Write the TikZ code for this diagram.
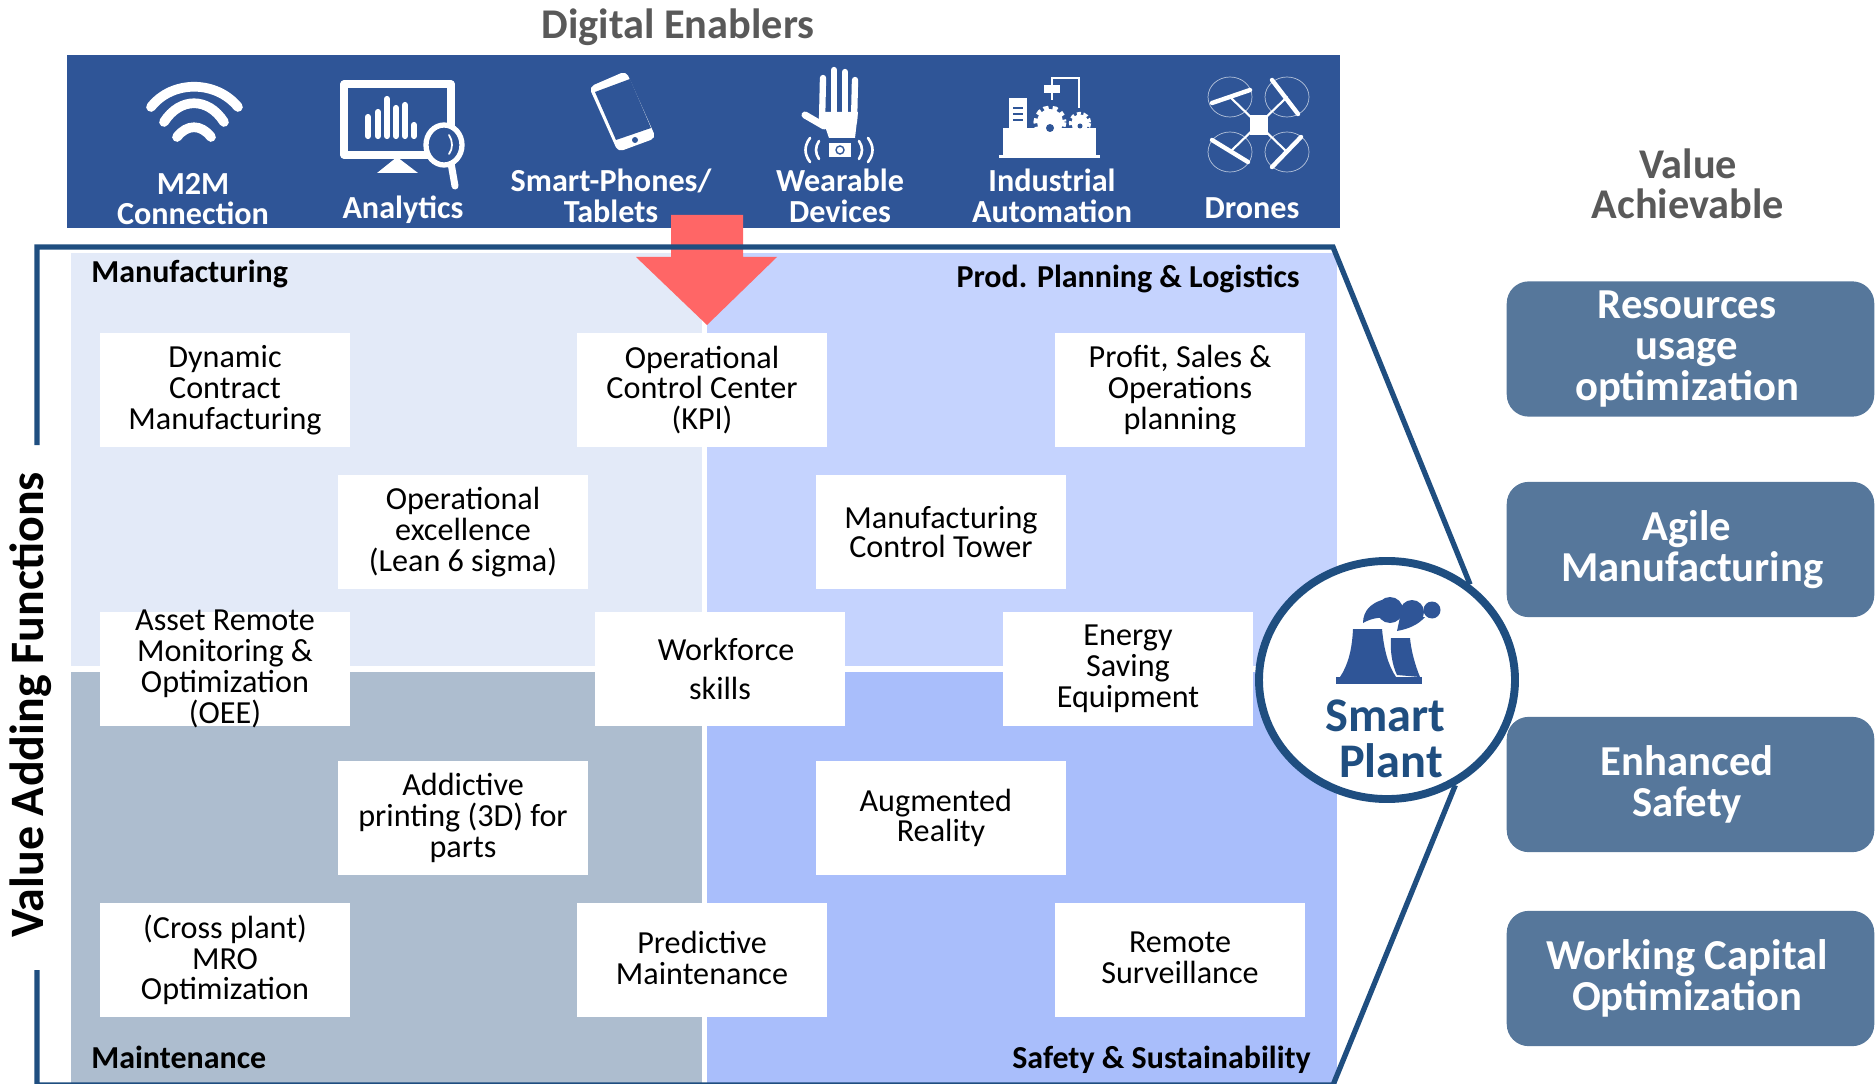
\documentclass[tikz,border=0pt]{standalone}
\usepackage{fontspec}
\setmainfont{Carlito}
\usetikzlibrary{shapes.geometric}
\definecolor{bandblue}{HTML}{2F5597}
\definecolor{framenavy}{HTML}{1F4E80}
\definecolor{zonemfg}{HTML}{E3EAF8}
\definecolor{zoneplan}{HTML}{C5D3FE}
\definecolor{zonemaint}{HTML}{ADBDCF}
\definecolor{zonesafe}{HTML}{A9BEFB}
\definecolor{valueblue}{HTML}{56779B}
\definecolor{arrowred}{HTML}{FF6666}
\definecolor{titlegray}{HTML}{595959}
\tikzset{
    funcbox/.style={fill=white, minimum width=142.8pt, minimum height=64.6pt, inner sep=0pt, align=center,
        font=\fontsize{18.3}{17.5}\selectfont},
    functext/.style={inner sep=0pt, align=center, font=\fontsize{18.3}{17.5}\selectfont},
    bandlabel/.style={text=white, align=center, inner sep=0pt, font=\bfseries\fontsize{18.3}{17.5}\selectfont},
    zonelabel/.style={inner sep=0pt, font=\bfseries\fontsize{18.2}{17.5}\selectfont},
    headlabel/.style={text=titlegray, align=center, inner sep=0pt, font=\bfseries\fontsize{24.1}{23}\selectfont},
    valuebox/.style={fill=valueblue, text=white, rounded corners=12.5pt, minimum width=209.2pt, minimum height=77pt,
        inner sep=0pt, align=center, font=\bfseries\fontsize{24.3}{23.4}\selectfont},
    frameline/.style={draw=framenavy, line width=3pt},
    iconline/.style={draw=white, line cap=round, line join=round},
}
\newcommand{\valshift}{\hspace*{-4pt}}
\begin{document}
\begin{tikzpicture}[x=0.02cm, y=-0.02cm]
    \useasboundingbox (0,0) rectangle (1875,1084);

    \node [headlabel] (enablers) at (678,27.5) {Digital Enablers};
    \fill [bandblue] (67,55) rectangle (1340,228);

    \fill [zonemfg] (71,253) rectangle (702,666);
    \fill [zoneplan] (707,253) rectangle (1337,666);
    \fill [zonemaint] (71,672) rectangle (702,1084);
    \fill [zonesafe] (707,672) rectangle (1337,1084);

    \node [bandlabel] (m2m) at (193,199) {M2M\\Connection};
    \node [bandlabel] (analytics) at (403,210) {Analytics};
    \node [bandlabel] (phones) at (611,196) {Smart-Phones/\\Tablets};
    \node [bandlabel] (wearable) at (840,196) {Wearable\\Devices};
    \node [bandlabel] (automation) at (1052,196) {Industrial\\Automation};
    \node [bandlabel] (drones) at (1252,208) {Drones};

    \draw [iconline, line width=5.5pt] (151,107) .. controls (172,80) and (216,80) .. (238,107);
    \draw [iconline, line width=5.5pt] (164,122) .. controls (180,97) and (208,97) .. (224,122);
    \draw [iconline, line width=5.5pt] (177,137) .. controls (187,124) and (201,124) .. (211,137);

    \draw [iconline, line width=4pt] (344,84) rectangle (451,155);
    \fill [white] (397,157) -- (418,173) -- (377,173) -- cycle;
    \draw [iconline, line width=3.5pt] (368,117) -- (368,136);
    \draw [iconline, line width=3.5pt] (378,112) -- (378,136);
    \draw [iconline, line width=3.5pt] (387,99) -- (387,136);
    \draw [iconline, line width=3.5pt] (396,108) -- (396,136);
    \draw [iconline, line width=3.5pt] (405,105) -- (405,136);
    \draw [iconline, line width=3.5pt] (414,125) -- (414,136);
    \draw [iconline, line width=4pt] (451,163) -- (455,186);
    \draw [iconline, fill=bandblue, line width=3pt] (444,145) ellipse (18 and 20);
    \draw [iconline, line width=1pt] (449,135) .. controls (453,141) and (453,149) .. (449,154);

    \fill [white, rounded corners=3pt] (589,87) -- (626,71) -- (656,138) -- (618,152) -- cycle;
    \fill [bandblue] (595,92) -- (630,79) -- (651,128) -- (616,140) -- cycle;
    \fill [bandblue] (635,140) circle (3);

    \draw [iconline, line width=3.6pt] (822,122) -- (823,78);
    \draw [iconline, line width=3.6pt] (834,122) -- (834,70);
    \draw [iconline, line width=3.6pt] (845,122) -- (845,72);
    \draw [iconline, line width=3.6pt] (854,122) -- (855,80);
    \draw [iconline, line width=4pt] (805,115) -- (824,126);
    \fill [white] (820,112) -- (858,112) -- (855,138) -- (829,138) -- cycle;
    \fill [white] (829,143) rectangle (851,157);
    \draw [bandblue, line width=0.8pt] (840,150) circle (4);
    \draw [iconline, line width=1.5pt] (819,141) .. controls (815,147) and (815,153) .. (819,159);
    \draw [iconline, line width=1.5pt] (810,138) .. controls (804,146) and (804,154) .. (810,162);
    \draw [iconline, line width=1.5pt] (859,141) .. controls (863,147) and (863,153) .. (859,159);
    \draw [iconline, line width=1.5pt] (868,138) .. controls (874,146) and (874,154) .. (868,162);

    \fill [white] (999,155) rectangle (1100,158);
    \fill [white] (1003,128) rectangle (1096,156);
    \fill [white] (1009,98) rectangle (1027,129);
    \draw [bandblue, line width=1pt] (1013,108) -- (1023,108);
    \draw [bandblue, line width=1pt] (1013,114) -- (1023,114);
    \draw [bandblue, line width=1pt] (1013,120) -- (1023,120);
    \draw [white, line width=4pt, dash pattern=on 2.5pt off 2pt] (1050,122) circle (13);
    \fill [white] (1050,122) circle (13);
    \draw [white, line width=3pt, dash pattern=on 2pt off 1.5pt] (1080,123) circle (8.5);
    \fill [white] (1080,123) circle (8.5);
    \fill [bandblue] (1050,128) circle (4);
    \fill [bandblue] (1080,126) circle (2.5);
    \draw [white, line width=1.5pt] (1079,108) -- (1079,78) -- (1052,78) -- (1052,100);
    \fill [white] (1044,85) rectangle (1060,93);

    \draw [white!65!bandblue, line width=0.4pt] (1230,97) ellipse (22 and 20);
    \draw [white!65!bandblue, line width=0.4pt] (1287,97) ellipse (22 and 20);
    \draw [white!65!bandblue, line width=0.4pt] (1230,152) ellipse (22 and 20);
    \draw [white!65!bandblue, line width=0.4pt] (1287,152) ellipse (22 and 20);
    \draw [iconline, line width=1.2pt] (1230,97) -- (1287,152);
    \draw [iconline, line width=1.2pt] (1287,97) -- (1230,152);
    \fill [white] (1250,115) rectangle (1268,135);
    \draw [iconline, line width=2.5pt] (1212,103) -- (1250,90);
    \draw [iconline, line width=2.5pt] (1272,80) -- (1298,114);
    \draw [iconline, line width=2.5pt] (1212,140) -- (1248,162);
    \draw [iconline, line width=2.5pt] (1272,167) -- (1301,137);

    \fill [arrowred] (671,215) -- (743,215) -- (743,257) -- (777,257) -- (707,325) -- (636,257) -- (671,257) -- cycle;

    \node [funcbox] (contract) at (225,390) {Dynamic\\Contract\\Manufacturing};
    \node [funcbox] (control) at (702,390) {Operational\\Control Center\\(KPI)};
    \node [funcbox] (sales) at (1180,390) {Profit, Sales \&\\Operations\\planning};
    \node [funcbox] (lean) at (463,532) {Operational\\excellence\\(Lean 6 sigma)};
    \node [funcbox] (tower) at (941,532) {Manufacturing\\[-0.6pt]Control Tower};
    \node [funcbox] (assetbox) at (225,669) {};
    \node [functext] (asset) at (225,669) {Asset Remote\\Monitoring \&\\Optimization\\(OEE)};
    \node [funcbox] (workforce) at (720,669) {\hspace*{7pt}Workforce\\[5pt]skills};
    \node [funcbox] (energy) at (1128,669) {Energy\\Saving\\Equipment};
    \node [funcbox] (printing) at (463,818) {Addictive\\printing (3D) for\\parts};
    \node [funcbox] (reality) at (941,818) {\hspace*{-6pt}Augmented\\Reality};
    \node [funcbox] (mro) at (225,960) {(Cross plant)\\MRO\\Optimization};
    \node [funcbox] (predictivebox) at (702,960) {};
    \node [functext] (predictive) at (702,958) {Predictive\\Maintenance};
    \node [funcbox] (surveillancebox) at (1180,960) {};
    \node [functext] (surveillance) at (1180,958) {Remote\\Surveillance};

    \node [zonelabel, anchor=west] (manufacturing) at (91,273.5) {Manufacturing};
    \node [zonelabel, anchor=east] (planning) at (1300,278.5) {Prod. Planning \& Logistics};
    \node [zonelabel, anchor=west] (maintenance) at (91,1057) {Maintenance};
    \node [zonelabel, anchor=east] (safety) at (1311,1060) {Safety \& Sustainability};

    \node [rotate=90, inner sep=0pt, font=\bfseries\fontsize{27.3}{27.3}\selectfont] (functions) at (30.5,705) {Value Adding Functions};

    \node [draw=framenavy, line width=4.5pt, fill=white, shape=ellipse, inner sep=0pt, minimum width=145.7pt, minimum height=135.5pt] (plant) at (1387,680) {};
    \coordinate (topleft) at (37,247);
    \coordinate (topright) at (1333,247);
    \coordinate (botleft) at (37,1085);
    \coordinate (botright) at (1333,1085);
    \coordinate (gaptop) at (37,445);
    \coordinate (gapbot) at (37,970);
    \draw [frameline] (gaptop) -- (topleft) -- (topright) -- (plant.49);
    \draw [frameline] (gapbot) -- (botleft) -- (botright) -- (plant.-57);

    \fill [bandblue] (1353,629) -- (1382,629) .. controls (1384,650) and (1388,665) .. (1396,677) -- (1340,677) .. controls (1348,665) and (1352,650) .. (1353,629) -- cycle;
    \fill [bandblue] (1391,638) -- (1410,638) .. controls (1411,650) and (1415,665) .. (1420,677) -- (1397,675) .. controls (1392,665) and (1390,650) .. (1391,638) -- cycle;
    \fill [bandblue] (1336,677) rectangle (1422,684);
    \fill [bandblue] (1363,623) .. controls (1363,610) and (1372,603) .. (1382,600) -- (1385,618) .. controls (1378,617) and (1370,619) .. (1363,623) -- cycle;
    \fill [bandblue] (1390,610) circle (13);
    \fill [bandblue] (1412,612) circle (12);
    \fill [bandblue] (1432,610) circle (8.5);
    \fill [bandblue] (1397,631) -- (1400,617) -- (1425,617) .. controls (1418,625) and (1408,629) .. (1397,631) -- cycle;
    \node [inner sep=0pt, text=framenavy, align=center, font=\bfseries\fontsize{27.5}{26}\selectfont] (plantname) at (1385.6,739) {Smart\\\hspace*{6pt}Plant};

    \node [headlabel] (achievable) at (1688,184) {Value\\Achievable};
    \node [valuebox] (resources) at (1690.5,349) {\valshift Resources\\\valshift usage\\\valshift optimization};
    \node [valuebox] (agile) at (1690.5,549.5) {\valshift Agile\\\hspace*{2pt}Manufacturing};
    \node [valuebox] (safetyvalue) at (1690.5,784.5) {\valshift Enhanced\\\valshift Safety};
    \node [valuebox] (capital) at (1690.5,978.5) {\valshift Working Capital\\\valshift Optimization};
\end{tikzpicture}
\end{document}
